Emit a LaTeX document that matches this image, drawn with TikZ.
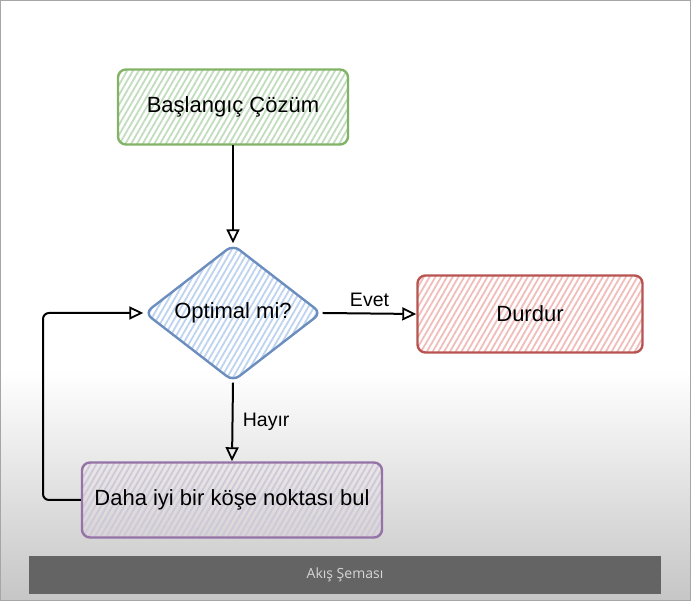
\documentclass[tikz,border=0pt]{standalone}
\usepackage{fontspec}
\setmainfont{Liberation Sans}
\newfontfamily\capfont{Open Sans}
\usepackage{xcolor}
\usetikzlibrary{positioning,calc,shapes.geometric,arrows.meta,patterns.meta}
\definecolor{startline}{HTML}{82B366}
\definecolor{starthatch}{HTML}{C2DCBE}
\definecolor{decline}{HTML}{6C8EBF}
\definecolor{dechatch}{HTML}{BED3F0}
\definecolor{stopline}{HTML}{B85450}
\definecolor{stophatch}{HTML}{F1BDBB}
\definecolor{betterline}{HTML}{9673A6}
\definecolor{betterhatch}{HTML}{D2C6D9}
\definecolor{capbar}{HTML}{646464}
\definecolor{captext}{HTML}{D6D6D6}
\begin{document}
\begin{tikzpicture}[x=1pt,y=1pt,
		sketch/.style={line width=2.4pt,rounded corners=8pt,font=\fontsize{22}{26}\selectfont,
			pattern={Lines[angle=60,distance=5pt,line width=1.8pt]}},
		flow/.style={-{Triangle[open,length=14pt,width=13pt,line width=1.8pt]},line width=2pt},
		lbl/.style={font=\fontsize{19.5}{23}\selectfont}]
		% background
		\useasboundingbox (0,0) rectangle (691,601);
		\fill[white] (0,0) rectangle (691,601);
		\shade[top color=white,bottom color=gray!45] (0,0) rectangle (691,231);
		\draw[gray!70,line width=1pt] (0.5,0.5) rectangle (690.5,600.5);
		
		\node[sketch,draw=startline,pattern color=starthatch,minimum width=230,minimum height=75] (start) at (233,494) {Başlangıç Çözüm};
		\node[sketch,diamond,draw=decline,pattern color=dechatch,minimum width=177,minimum height=137,inner sep=0pt,aspect=1.29] (check) at (233,288) {Optimal mi?};
		\node[sketch,draw=stopline,pattern color=stophatch,minimum width=225,minimum height=77] (stop) at (530,287) {Durdur};
		\node[sketch,draw=betterline,pattern color=betterhatch,minimum width=300,minimum height=75,inner xsep=2pt] (better) at (232,101) {Daha iyi bir köşe noktası bul};
		\coordinate (back) at (43,0);
		
		\draw[flow] (start.south)--(check.north);
		\draw[flow] (check.east)--node[lbl,above=2pt] {Evet} (stop.west);
		\draw[flow] (check.south)--node[lbl,right=6pt] {Hayır} (better.north);
		\draw[flow,rounded corners=6pt] (better.west)--(better.west-|back)|-(check.west);
		
		% caption bar
		\node[fill=capbar,text=captext,minimum width=632,minimum height=38,font=\capfont\fontsize{14}{16}\selectfont] (caption) at (345,26) {Akış Şeması};
	\end{tikzpicture}
\end{document}
